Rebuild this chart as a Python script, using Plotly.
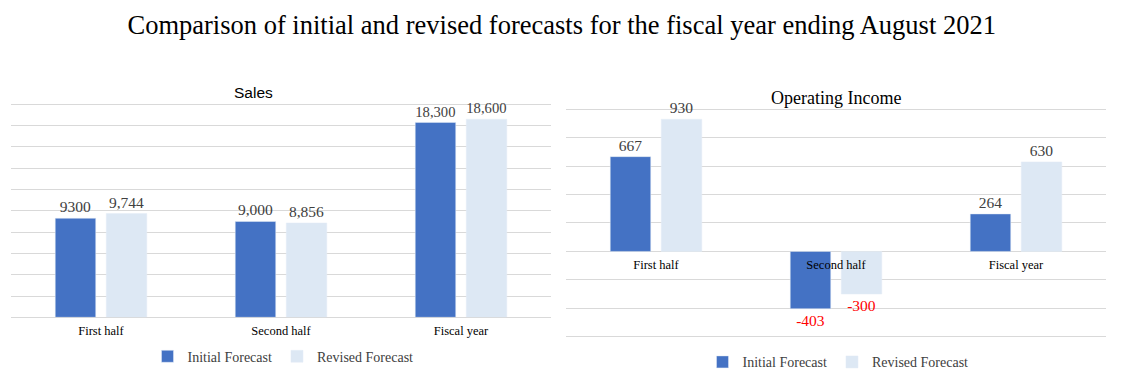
import plotly.graph_objects as go

# ---- data ----
categories = ["First half", "Second half", "Fiscal year"]
series_names = ["Initial Forecast", "Revised Forecast"]

sales_initial = [9300, 9000, 18300]
sales_revised = [9744, 8856, 18600]
sales_initial_labels = ["9300", "9,000", "18,300"]
sales_revised_labels = ["9,744", "8,856", "18,600"]

oi_initial = [667, -403, 264]
oi_revised = [930, -300, 630]

main_title = "Comparison of initial and revised forecasts for the fiscal year ending August 2021"
left_title = "Sales"
right_title = "Operating Income"

# ---- styles ----
SERIF = "Liberation Serif, Times New Roman, serif"
C_INIT = "#4472c4"
C_REV = "#dde8f4"
GRID = "#d9d9d9"
LBL = "#404040"
NEG = "#ff0000"

W, H = 1130, 384
# left plot: 0 at y=317.3px, 20000 at y=104.3px; range padded slightly so edge gridlines draw
L_PAD = 100
L_PPU = (317.3 - 104.3) / 20000
L_YDOM = [(H - 317.3) / H, (H - (104.3 - L_PAD * L_PPU)) / H]
# right plot: -600 at y=336.7px, 1000 at y=109.3px
R_PAD = 10
R_PPU = (336.7 - 109.3) / 1600
R_YDOM = [(H - (336.7 + R_PAD * R_PPU)) / H, (H - (109.3 - R_PAD * R_PPU)) / H]
R_ZERO = (H - 251.3) / H
L_DOM = [11 / W, 551 / W]
R_DOM = [566 / W, 1106 / W]


def lbl_colors(vals):
    return [NEG if v < 0 else LBL for v in vals]


def fmt(vals):
    return [f"{v:,}" for v in vals]


fig = go.Figure()

fig.add_trace(go.Bar(x=categories, y=sales_initial, name=series_names[0], marker_color=C_INIT,
                     text=sales_initial_labels, textposition="outside", cliponaxis=False,
                     textfont=dict(family=SERIF, size=15.5, color=LBL),
                     xaxis="x", yaxis="y", legend="legend"))
fig.add_trace(go.Bar(x=categories, y=sales_revised, name=series_names[1], marker_color=C_REV,
                     text=sales_revised_labels, textposition="outside", cliponaxis=False,
                     textfont=dict(family=SERIF, size=15.5, color=LBL),
                     xaxis="x", yaxis="y", legend="legend"))
fig.add_trace(go.Bar(x=categories, y=oi_initial, name=series_names[0], marker_color=C_INIT,
                     text=fmt(oi_initial), textposition="outside", cliponaxis=False,
                     textfont=dict(family=SERIF, size=15.5, color=lbl_colors(oi_initial)),
                     xaxis="x2", yaxis="y2", legend="legend2"))
fig.add_trace(go.Bar(x=categories, y=oi_revised, name=series_names[1], marker_color=C_REV,
                     text=fmt(oi_revised), textposition="outside", cliponaxis=False,
                     textfont=dict(family=SERIF, size=15.5, color=lbl_colors(oi_revised)),
                     xaxis="x2", yaxis="y2", legend="legend2"))

tickfont = dict(family=SERIF, size=12.5, color="#000000")

fig.update_layout(
    width=W, height=H,
    margin=dict(l=0, r=0, t=0, b=0),
    paper_bgcolor="white", plot_bgcolor="white",
    barmode="group", bargap=0.433, bargroupgap=0.206,
    title=dict(text=main_title, x=561.7 / W, xanchor="center", y=1 - 25 / H, yanchor="middle",
               font=dict(family=SERIF, size=26.5, color="#000000")),
    xaxis=dict(domain=L_DOM, anchor="y", showgrid=False, showline=False, ticks="",
               tickfont=tickfont, ticklabelstandoff=4),
    yaxis=dict(domain=L_YDOM, anchor="x", range=[0, 20000 + L_PAD], tick0=0, dtick=2000,
               showticklabels=False,
               showgrid=True, gridcolor=GRID, gridwidth=1, zeroline=True, zerolinecolor=GRID,
               zerolinewidth=1),
    xaxis2=dict(domain=R_DOM, anchor="free", position=R_ZERO, showgrid=False, showline=False,
                ticks="", tickfont=tickfont, ticklabelstandoff=4),
    yaxis2=dict(domain=R_YDOM, anchor="x2", range=[-600 - R_PAD, 1000 + R_PAD], tick0=0,
                dtick=200, showticklabels=False,
                showgrid=True, gridcolor=GRID, gridwidth=1, zeroline=True, zerolinecolor=GRID,
                zerolinewidth=1),
    legend=dict(orientation="h", x=283 / W, xanchor="center", y=(H - 356.7) / H, yanchor="middle",
                font=dict(family=SERIF, size=14, color=LBL), bgcolor="rgba(0,0,0,0)",
                itemclick=False),
    legend2=dict(orientation="h", x=838 / W, xanchor="center", y=(H - 362.3) / H, yanchor="middle",
                 font=dict(family=SERIF, size=14, color=LBL), bgcolor="rgba(0,0,0,0)",
                 itemclick=False),
    showlegend=True,
    annotations=[
        dict(text=left_title, x=253 / W, y=1 - 92 / H, xref="paper", yref="paper",
             xanchor="center", yanchor="middle", showarrow=False,
             font=dict(family="Liberation Sans, Arial, sans-serif", size=15.5, color="#000000")),
        dict(text=right_title, x=836 / W, y=1 - 98.3 / H, xref="paper", yref="paper",
             xanchor="center", yanchor="middle", showarrow=False,
             font=dict(family=SERIF, size=18, color="#000000")),
    ],
)

fig.write_html("out.html", config={"displayModeBar": False},
               post_script="document.body.style.margin='0';")
